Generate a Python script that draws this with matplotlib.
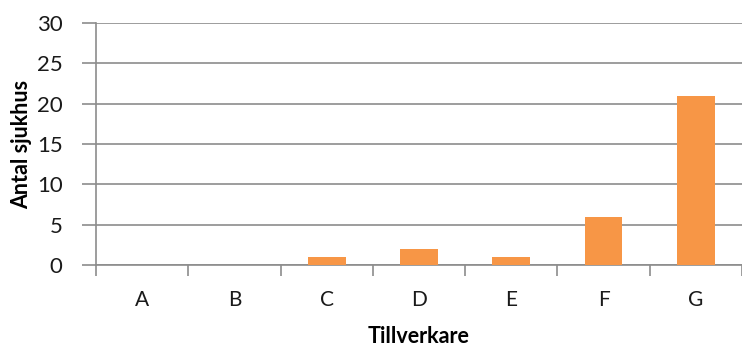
import matplotlib.pyplot as plt
import numpy as np

# Antal sjukhus per tillverkare
tillverkare = ["A", "B", "C", "D", "E", "F", "G"]
antal = [0, 0, 1, 2, 1, 6, 21]

BAR = "#F79646"
GRID = "#8C8C8C"

plt.rcParams["font.family"] = ["Lato", "DejaVu Sans"]

fig = plt.figure(figsize=(7.42, 3.49), dpi=100)
ax = fig.add_axes([96 / 742, 84 / 349, 646 / 742, 242 / 349])

x = np.arange(len(tillverkare))
ax.bar(x, antal, width=0.41, color=BAR, zorder=3)

ax.set_xlim(-0.5, len(tillverkare) - 0.5)
ax.set_ylim(0, 30)
ax.set_yticks(range(0, 31, 5))
ax.yaxis.grid(True, color=GRID, lw=1.2, zorder=0)

# category boundaries carry the x ticks, labels sit in the middle
ax.set_xticks(np.arange(-0.5, len(tillverkare) - 0.4, 1.0))
ax.set_xticklabels([])
ax.set_xticks(x, minor=True)
ax.set_xticklabels(tillverkare, minor=True)
ax.tick_params(axis="x", which="major", length=8, width=1.2, color=GRID)
ax.tick_params(axis="x", which="minor", length=0, pad=18, labelsize=15,
               labelcolor="#1a1a1a")
ax.tick_params(axis="y", length=10, width=1.2, color=GRID, pad=14,
               labelsize=16, labelcolor="#1a1a1a")

for s in ["top", "right"]:
    ax.spines[s].set_visible(False)
for s in ["left", "bottom"]:
    ax.spines[s].set_color(GRID)
    ax.spines[s].set_linewidth(1.2)

ax.set_xlabel("Tillverkare", fontsize=15.5, fontweight="bold", va="center")
ax.xaxis.set_label_coords(0.5, -0.295)
ax.set_ylabel("Antal sjukhus", fontsize=15.5, fontweight="bold", va="center")
ax.yaxis.set_label_coords(-0.115, 0.5)

fig.savefig("out.png", dpi=100)
